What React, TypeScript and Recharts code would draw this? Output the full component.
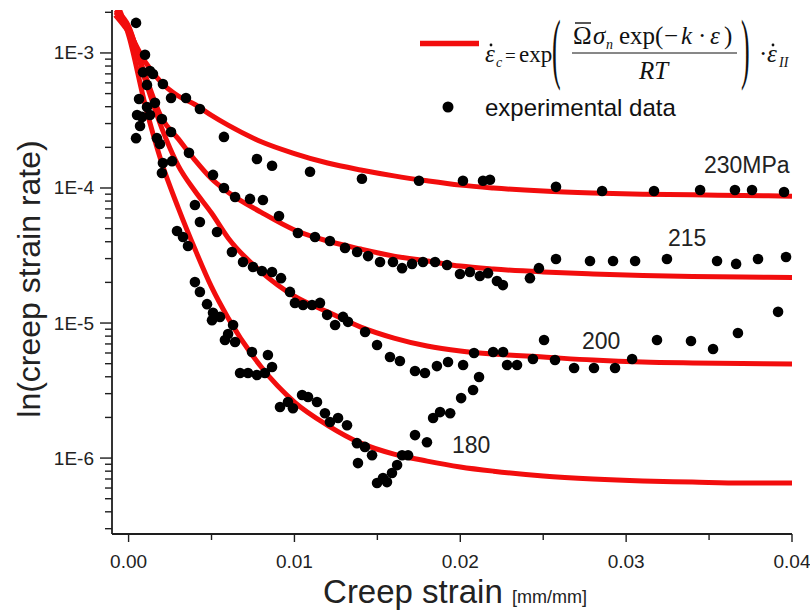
import React from 'react';
import { ComposedChart, Line, Scatter, XAxis, YAxis } from 'recharts';

// ---------- model curves ----------
const strainGrid = [-0.0008, 0, 0.001, 0.002, 0.003, 0.004, 0.005, 0.006, 0.008, 0.010, 0.012, 0.014, 0.016, 0.018, 0.020, 0.022, 0.025, 0.028, 0.031, 0.034, 0.037, 0.040];
const model230 = [1.91e-3, 1.43e-3, 8.6e-4, 6.0e-4, 4.8e-4, 4.15e-4, 3.45e-4, 2.92e-4, 2.2e-4, 1.8e-4, 1.53e-4, 1.36e-4, 1.23e-4, 1.13e-4, 1.05e-4, 1.0e-4, 9.5e-5, 9.2e-5, 9.0e-5, 8.9e-5, 8.8e-5, 8.7e-5];
const model215 = [2.01e-3, 1.53e-3, 6.87e-4, 3.3e-4, 2.31e-4, 1.61e-4, 1.17e-4, 9.3e-5, 6.6e-5, 4.89e-5, 4.05e-5, 3.53e-5, 3.13e-5, 2.88e-5, 2.64e-5, 2.51e-5, 2.39e-5, 2.31e-5, 2.25e-5, 2.21e-5, 2.19e-5, 2.17e-5];
const model200 = [2.08e-3, 1.58e-3, 6.3e-4, 2.78e-4, 1.46e-4, 9.5e-5, 6.53e-5, 4.27e-5, 2.39e-5, 1.58e-5, 1.21e-5, 9.33e-6, 7.74e-6, 6.76e-6, 6.21e-6, 5.89e-6, 5.6e-6, 5.32e-6, 5.14e-6, 5.06e-6, 5.01e-6, 4.97e-6];
const model180 = [2.47e-3, 1.36e-3, 4.12e-4, 1.53e-4, 7.1e-5, 3.53e-5, 1.85e-5, 1.09e-5, 4.72e-6, 2.6e-6, 1.75e-6, 1.29e-6, 1.07e-6, 9.5e-7, 8.6e-7, 8.0e-7, 7.36e-7, 6.99e-7, 6.76e-7, 6.64e-7, 6.53e-7, 6.53e-7];

// ---------- experimental data [strain, rate] ----------
const exp230: [number, number][] = [
  [0.00045, 1.67e-3], [0.00099, 9.7e-4], [0.00087, 7.2e-4], [0.00129, 7.36e-4], [0.00147, 6.99e-4],
  [0.00111, 5.8e-4], [0.00207, 5.89e-4], [0.00256, 4.64e-4], [0.00346, 4.64e-4], [0.0043, 3.85e-4],
  [0.00575, 2.39e-4], [0.00774, 1.64e-4], [0.00865, 1.46e-4], [0.01094, 1.32e-4],
  [0.01407, 1.17e-4], [0.01751, 1.13e-4], [0.02016, 1.13e-4], [0.02137, 1.13e-4], [0.02179, 1.15e-4],
  [0.02577, 1.02e-4], [0.02855, 9.5e-5], [0.03168, 9.5e-5], [0.03446, 9.67e-5], [0.03656, 9.67e-5],
  [0.03759, 9.67e-5], [0.03952, 9.33e-5],
];
const exp215: [number, number][] = [
  [0.00063, 4.56e-4], [0.00111, 3.98e-4], [0.00159, 4.27e-4], [0.00051, 3.47e-4], [0.00081, 3.36e-4],
  [0.00129, 3.47e-4], [0.00069, 2.88e-4], [0.00045, 2.34e-4], [0.00201, 3.24e-4], [0.00256, 2.6e-4],
  [0.00171, 2.34e-4], [0.00189, 2.12e-4], [0.00364, 1.82e-4], [0.00509, 1.25e-4], [0.00575, 1.0e-4],
  [0.00642, 8.58e-5], [0.00732, 8.3e-5], [0.0081, 8.15e-5], [0.00907, 6.21e-5], [0.01021, 4.64e-5],
  [0.01124, 4.34e-5], [0.01214, 4.05e-5], [0.01305, 3.6e-5], [0.01378, 3.36e-5], [0.01444, 3.13e-5],
  [0.01516, 2.83e-5], [0.01594, 2.83e-5], [0.01649, 2.55e-5], [0.01709, 2.74e-5], [0.01775, 2.83e-5],
  [0.01848, 2.83e-5], [0.0192, 2.69e-5], [0.01998, 2.31e-5], [0.02058, 2.39e-5], [0.02118, 2.23e-5],
  [0.02167, 2.34e-5], [0.02221, 2.05e-5], [0.02257, 1.91e-5], [0.0242, 2.15e-5], [0.02474, 2.55e-5],
  [0.02577, 2.98e-5], [0.02782, 2.88e-5], [0.02921, 2.88e-5], [0.03054, 2.88e-5], [0.03246, 2.98e-5],
  [0.03548, 2.88e-5], [0.03663, 2.74e-5], [0.03795, 2.98e-5], [0.03964, 3.08e-5],
];
const exp200: [number, number][] = [
  [0.00207, 1.53e-4], [0.00262, 1.58e-4], [0.00201, 1.29e-4], [0.004, 7.48e-5], [0.0043, 5.6e-5],
  [0.00533, 4.72e-5], [0.00623, 3.36e-5], [0.0069, 2.83e-5], [0.0075, 2.6e-5], [0.00804, 2.43e-5],
  [0.00865, 2.39e-5], [0.00919, 2.15e-5], [0.00973, 1.7e-5], [0.01003, 1.41e-5], [0.01052, 1.36e-5],
  [0.01106, 1.36e-5], [0.01154, 1.41e-5], [0.01197, 1.15e-5], [0.01245, 9.67e-6], [0.01293, 1.11e-5],
  [0.01323, 1.02e-5], [0.01426, 8.58e-6], [0.01498, 6.87e-6], [0.01576, 5.6e-6], [0.01636, 5.24e-6],
  [0.01727, 4.41e-6], [0.01787, 4.27e-6], [0.01859, 4.8e-6], [0.01926, 5.14e-6], [0.02017, 4.89e-6],
  [0.02083, 6.0e-6], [0.02198, 6.1e-6], [0.02258, 6.1e-6], [0.02282, 4.89e-6], [0.02342, 4.89e-6],
  [0.02438, 5.41e-6], [0.02505, 7.48e-6], [0.02571, 5.32e-6], [0.02686, 4.64e-6], [0.02806, 4.64e-6],
  [0.02933, 4.64e-6], [0.03036, 5.41e-6], [0.03186, 7.48e-6], [0.03391, 7.36e-6], [0.03524, 6.42e-6],
  [0.03674, 8.43e-6], [0.03916, 1.21e-5],
];
const exp180: [number, number][] = [
  [0.00292, 4.8e-5], [0.00328, 4.34e-5], [0.00358, 3.72e-5], [0.004, 2.01e-5], [0.0043, 1.7e-5],
  [0.00473, 1.38e-5], [0.00509, 1.19e-5], [0.00503, 1.05e-5], [0.00551, 1.11e-5], [0.0063, 9.67e-6],
  [0.006, 8.3e-6], [0.00581, 7.48e-6], [0.00642, 7.23e-6], [0.00744, 6.1e-6], [0.0084, 5.8e-6],
  [0.00865, 4.72e-6], [0.00672, 4.27e-6], [0.0072, 4.27e-6], [0.00774, 4.12e-6], [0.00822, 4.27e-6],
  [0.00913, 2.39e-6], [0.00961, 2.6e-6], [0.00991, 2.34e-6], [0.01046, 2.93e-6], [0.01082, 2.83e-6],
  [0.01136, 2.6e-6], [0.01184, 2.15e-6], [0.01214, 1.85e-6], [0.01263, 1.98e-6], [0.01317, 1.75e-6],
  [0.01377, 1.29e-6], [0.01425, 1.21e-6], [0.01468, 1.05e-6], [0.01383, 9.18e-7], [0.01649, 1.05e-6],
  [0.01685, 1.05e-6], [0.01619, 8.87e-7], [0.01588, 7.75e-7], [0.01534, 7.11e-7], [0.01498, 6.53e-7],
  [0.01558, 6.64e-7], [0.01727, 1.48e-6], [0.01799, 1.31e-6], [0.01836, 1.98e-6], [0.01878, 2.19e-6],
  [0.01939, 2.15e-6], [0.02005, 2.78e-6], [0.02077, 3.19e-6], [0.02113, 3.98e-6],
];

// ---------- axes ----------
const xDomain = [-0.001, 0.04];
const yDomain = [2.74e-7, 2.08e-3];
const xTicks = [0, 0.005, 0.01, 0.015, 0.02, 0.025, 0.03, 0.035, 0.04];
const xMajor = [0, 0.01, 0.02, 0.03, 0.04];
const xMajorLabels = ['0.00', '0.01', '0.02', '0.03', '0.04'];
const yMajor = [1e-3, 1e-4, 1e-5, 1e-6];
const yMajorLabels = ['1E-3', '1E-4', '1E-5', '1E-6'];
const yMinorMultipliers = [2, 3, 4, 5, 6, 7, 8, 9];
const yDecades = [1e-7, 1e-6, 1e-5, 1e-4, 1e-3];

const yTicks = [
  ...yMajor,
  ...yDecades.flatMap((d) => yMinorMultipliers.map((m) => m * d)).filter((v) => v >= yDomain[0] && v <= yDomain[1]),
].sort((a, b) => a - b);

const curve = (ys: number[]) => strainGrid.map((x, i) => ({ x, y: ys[i] }));
const pts = (arr: [number, number][]) => arr.map(([x, y]) => ({ x, y }));

const AXIS = '#1e1e1e';
const RED = '#f20d0d';
const SANS = 'Liberation Sans, Arial, sans-serif';
const SERIF = 'Liberation Serif, Times New Roman, serif';

const YTick = (props: any) => {
  const { x, y, payload } = props;
  const v = payload.value;
  const idx = yMajor.findIndex((m) => Math.abs(Math.log10(m) - Math.log10(v)) < 1e-6);
  const major = idx >= 0;
  return (
    <g>
      <line x1={x - (major ? 12 : 7)} x2={x} y1={y} y2={y} stroke={AXIS} strokeWidth={1.4} />
      {major && (
        <text x={x - 18} y={y} textAnchor="end" dominantBaseline="central" fontSize={19} fontFamily={SANS} fill="#222">
          {yMajorLabels[idx]}
        </text>
      )}
    </g>
  );
};

const XTick = (props: any) => {
  const { x, y, payload } = props;
  const v = payload.value;
  const idx = xMajor.findIndex((m) => Math.abs(m - v) < 1e-9);
  const major = idx >= 0;
  return (
    <g>
      <line x1={x} x2={x} y1={y} y2={y + (major ? 8 : 6)} stroke={AXIS} strokeWidth={1.4} />
      {major && (
        <text x={x} y={y + 27} textAnchor="middle" dominantBaseline="central" fontSize={19} fontFamily={SANS} fill="#222">
          {xMajorLabels[idx]}
        </text>
      )}
    </g>
  );
};

const dot = (p: any) => <circle cx={p.cx} cy={p.cy} r={5.3} fill="#000" />;

const Overlay = () => (
  <svg width={810} height={613} style={{ position: 'absolute', left: 0, top: 0, pointerEvents: 'none' }}>
    {/* axis titles */}
    <text transform="translate(29,279) rotate(-90)" textAnchor="middle" dominantBaseline="central" fontSize={32} fontFamily={SANS} fill="#222">
      ln(creep strain rate)
    </text>
    <text x={455} y={603} textAnchor="middle" fontFamily={SANS} fill="#222">
      <tspan fontSize={33}>Creep strain </tspan>
      <tspan fontSize={18}>[mm/mm]</tspan>
    </text>
    {/* curve labels */}
    <text x={704} y={165} dominantBaseline="central" fontSize={23} fontFamily={SANS} fill="#222">230MPa</text>
    <text x={668} y={238} dominantBaseline="central" fontSize={23} fontFamily={SANS} fill="#222">215</text>
    <text x={582} y={341} dominantBaseline="central" fontSize={23} fontFamily={SANS} fill="#222">200</text>
    <text x={452} y={445} dominantBaseline="central" fontSize={23} fontFamily={SANS} fill="#222">180</text>
    {/* legend */}
    <line x1={420} x2={479} y1={43.5} y2={43.5} stroke={RED} strokeWidth={5.5} />
    <g fontFamily={SERIF} fill="#111" fontSize={25}>
      <text x={485} y={62} fontStyle="italic">ε</text>
      <circle cx={491} cy={45} r={1.4} fill="#111" />
      <text x={496} y={67} fontStyle="italic" fontSize={14}>c</text>
      <text x={505} y={62} fontSize={19}>=</text>
      <text x={519} y={62} fontSize={23}>exp</text>
      <text transform="translate(552,74) scale(1,3.0)" fontSize={26}>(</text>
      <text x={573} y={44}>Ω</text>
      <line x1={575} x2={591} y1={23} y2={23} stroke="#111" strokeWidth={1.4} />
      <text x={593} y={44} fontStyle="italic">σ</text>
      <text x={606} y={49} fontStyle="italic" fontSize={14}>n</text>
      <text x={619} y={44}>exp(</text>
      <text x={664} y={44}>−</text>
      <text x={681} y={44} fontStyle="italic">k</text>
      <text x={698} y={44}>·</text>
      <text x={710} y={44} fontStyle="italic">ε</text>
      <text x={724} y={44}>)</text>
      <line x1={572} x2={737} y1={53} y2={53} stroke="#111" strokeWidth={1} />
      <text x={639} y={79} fontStyle="italic">RT</text>
      <text transform="translate(741,74) scale(1,3.0)" fontSize={26}>)</text>
      <text x={759} y={62}>·</text>
      <text x={767} y={62} fontStyle="italic">ε</text>
      <circle cx={773} cy={45} r={1.4} fill="#111" />
      <text x={779} y={67} fontStyle="italic" fontSize={14}>II</text>
    </g>
    <circle cx={448} cy={107} r={5.5} fill="#000" />
    <text x={485} y={107} dominantBaseline="central" fontSize={24} fontFamily={SANS} fill="#111">experimental data</text>
  </svg>
);

export default function App() {
  return (
    <div style={{ position: 'absolute', left: 0, top: 0, width: 810, height: 613, background: '#fff' }}>
      <ComposedChart width={810} height={613} margin={{ top: 10, right: 18, bottom: 0, left: 0 }}>
        <XAxis
          xAxisId={0}
          dataKey="x"
          type="number"
          domain={xDomain}
          ticks={xTicks}
          interval={0}
          allowDataOverflow
          height={79}
          tickSize={0}
          tickMargin={0}
          tickLine={false}
          tick={<XTick />}
          axisLine={{ stroke: AXIS, strokeWidth: 1.8 }}
        />
        <XAxis xAxisId="top" orientation="top" type="number" domain={xDomain} height={0} tick={false} tickLine={false} axisLine={{ stroke: AXIS, strokeWidth: 1.8 }} />
        <YAxis
          yAxisId={0}
          dataKey="y"
          type="number"
          scale="log"
          domain={yDomain}
          ticks={yTicks}
          interval={0}
          allowDataOverflow
          width={112}
          tickSize={0}
          tickMargin={0}
          tickLine={false}
          tick={<YTick />}
          axisLine={{ stroke: AXIS, strokeWidth: 1.8 }}
        />
        <YAxis yAxisId="right" orientation="right" type="number" domain={[0, 1]} width={0} tick={false} tickLine={false} axisLine={{ stroke: AXIS, strokeWidth: 1.8 }} />
        <Line data={curve(model230)} dataKey="y" type="monotone" stroke={RED} strokeWidth={5} dot={false} isAnimationActive={false} />
        <Line data={curve(model215)} dataKey="y" type="monotone" stroke={RED} strokeWidth={5} dot={false} isAnimationActive={false} />
        <Line data={curve(model200)} dataKey="y" type="monotone" stroke={RED} strokeWidth={5} dot={false} isAnimationActive={false} />
        <Line data={curve(model180)} dataKey="y" type="monotone" stroke={RED} strokeWidth={5} dot={false} isAnimationActive={false} />
        <Scatter data={pts(exp230)} dataKey="y" shape={dot} isAnimationActive={false} />
        <Scatter data={pts(exp215)} dataKey="y" shape={dot} isAnimationActive={false} />
        <Scatter data={pts(exp200)} dataKey="y" shape={dot} isAnimationActive={false} />
        <Scatter data={pts(exp180)} dataKey="y" shape={dot} isAnimationActive={false} />
      </ComposedChart>
      <Overlay />
    </div>
  );
}
